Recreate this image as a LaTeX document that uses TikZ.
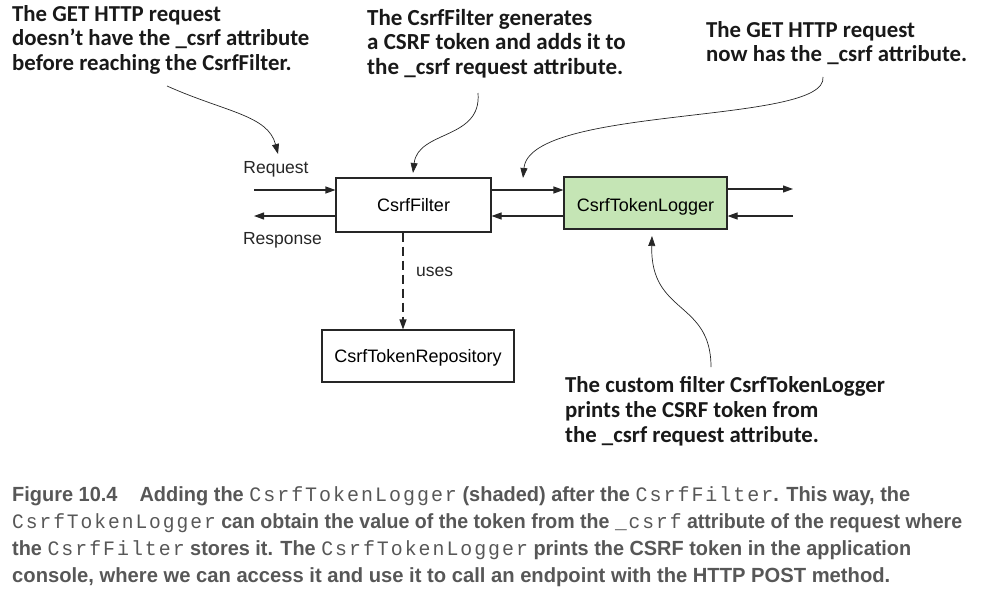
\documentclass[tikz,border=0pt]{standalone}
\usepackage{fontspec}
\usepackage{graphicx}
\usetikzlibrary{arrows.meta}
\setmainfont{Liberation Sans}
\newfontfamily\annfont{Carlito}
\newfontfamily\capfont{Liberation Sans}
\newfontfamily\capmono[LetterSpace=10]{Liberation Mono}
\definecolor{boxgreen}{HTML}{C5E5B5}
\definecolor{capgray}{HTML}{575757}
\newcommand{\cm}[1]{{\capmono\mdseries\fontsize{20.5}{22}\selectfont #1}}
\newcommand{\fitline}[2]{\resizebox{#1}{\height}{#2}}
\begin{document}
\begin{tikzpicture}[x=1pt,y=-1pt,
  box/.style={draw=black!85, line width=1.1pt, inner sep=0pt, text height=12.9pt, text depth=0pt, font=\fontsize{18}{20}\selectfont},
  flow/.style={line width=1.1pt, draw=black!85, -{Triangle[length=10pt,width=7pt]}},
  callout/.style={line width=0.7pt, draw=black!85, -{Triangle[length=10pt,width=7pt]}},
  ann/.style={anchor=north west, inner sep=0pt, align=left, text=black!90, font=\annfont\bfseries\fontsize{22.8}{24.5}\selectfont},
  lbl/.style={inner sep=0pt, font=\fontsize{17.5}{20}\selectfont, text=black!85},
  capline/.style={anchor=base west, inner sep=0pt, text=capgray, font=\capfont\bfseries\fontsize{20.5}{22}\selectfont}
]
\useasboundingbox (0,0) rectangle (984,602);

% boxes
\node[box, minimum width=155pt, minimum height=54pt] (filter) at (413.5,205) {CsrfFilter};
\node[box, fill=boxgreen, minimum width=163pt, minimum height=52pt] (logger) at (645.5,203) {};
\node[inner sep=0pt, text height=12.9pt, text depth=0pt, font=\fontsize{18}{20}\selectfont] (loggertext) at (645.5,205) {CsrfTokenLogger};
\node[box, minimum width=192pt, minimum height=52pt] (repo) at (418,356) {CsrfTokenRepository};

% free ends
\coordinate (reqin) at (254,190);
\coordinate (respout) at (254,216);
\coordinate (outR) at (793,189);
\coordinate (inR) at (793,216);

\draw[flow] (reqin) -- (reqin -| filter.west);
\draw[flow] (filter.west |- respout) -- (respout);
\draw[flow] (filter.east |- reqin) -- (logger.west |- reqin);
\draw[flow] (logger.west |- respout) -- (filter.east |- respout);
\draw[flow] (logger.east |- outR) -- (outR);
\draw[flow] (inR) -- (logger.east |- inR);

\draw[flow, dash pattern=on 9pt off 5pt] (filter.south -| 403,0) -- (repo.north -| 403,0);

\node[lbl] (req) at (276,169) {Request};
\node[lbl] (resp) at (282.5,240) {Response};
\node[lbl, anchor=west] (uses) at (416,272) {uses};

% annotations
\node[ann] (a1) at (12,5) {The GET HTTP request\\doesn’t have the \_csrf attribute\\before reaching the CsrfFilter.};
\node[ann, font=\annfont\bfseries\fontsize{23}{24.5}\selectfont] (a2) at (367,9) {The CsrfFilter generates\\a CSRF token and adds it to\\the \_csrf request attribute.};
\node[ann] (a3) at (706,21) {The GET HTTP request\\now has the \_csrf attribute.};
\node[ann, font=\annfont\bfseries\fontsize{22.8}{25}\selectfont] (a4) at (565,376) {The custom filter CsrfTokenLogger\\prints the CSRF token from\\the \_csrf request attribute.};

\coordinate (c1s) at (167,86);
\coordinate (c1e) at (278,154);
\coordinate (c2s) at (478,93);
\coordinate (c2e) at (413,173);
\coordinate (c3s) at (823,77);
\coordinate (c3e) at (523,178);
\coordinate (c4s) at (711,367);
\coordinate (c4e) at (652,236);

\draw[callout] (c1s) .. controls (225,112) and (268,115) .. (c1e);
\draw[callout] (c2s) .. controls (482,140) and (418,130) .. (c2e);
\draw[callout] (c3s) .. controls (828,125) and (530,105) .. (c3e);
\draw[callout] (c4s) .. controls (711,300) and (650,315) .. (c4e);

% caption
\node[capline] (cap1) at (12,501) {\fitline{898pt}{Figure 10.4\hspace{1.1em}Adding the \cm{CsrfTokenLogger} (shaded) after the \cm{CsrfFilter}. This way, the}};
\node[capline] (cap2) at (12,528) {\fitline{950pt}{\cm{CsrfTokenLogger} can obtain the value of the token from the \cm{\_csrf} attribute of the request where}};
\node[capline] (cap3) at (12,555) {\fitline{899pt}{the \cm{CsrfFilter} stores it. The \cm{CsrfTokenLogger} prints the CSRF token in the application}};
\node[capline] (cap4) at (12,582) {\fitline{878pt}{console, where we can access it and use it to call an endpoint with the HTTP POST method.}};
\end{tikzpicture}
\end{document}
